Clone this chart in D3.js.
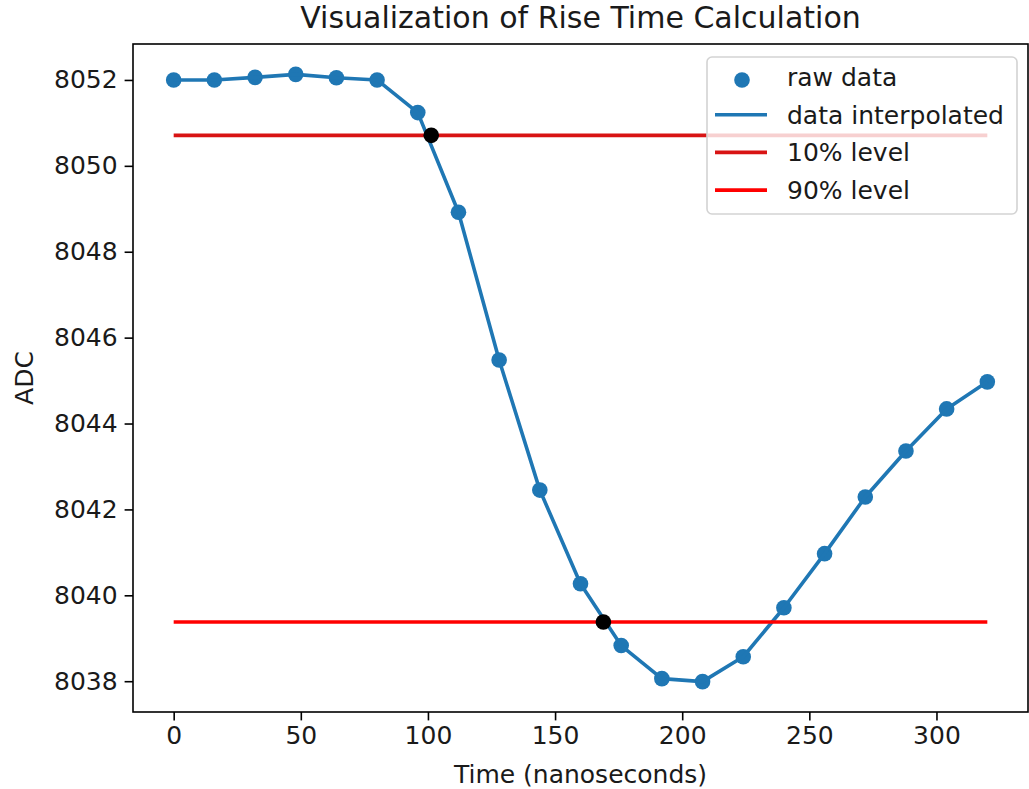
<!DOCTYPE html>
<html>
<head>
<meta charset="utf-8">
<script src="https://cdn.jsdelivr.net/npm/d3@7"></script>
<style>
  body { margin: 0; background: #fff; }
  text { font-family: "DejaVu Sans", sans-serif; fill: #1a1a1a; }
</style>
</head>
<body>
<div id="chart"></div>
<script>
// raw samples (ns, ADC counts)
var timeNs = [0, 16, 32, 48, 64, 80, 96, 112, 128, 144, 160, 176, 192, 208, 224, 240, 256, 272, 288, 304, 320];
var adc = [8052.0, 8052.0, 8052.06, 8052.13, 8052.05, 8052.0, 8051.24, 8048.92, 8045.48, 8042.45, 8040.27,
           8038.83, 8038.06, 8037.99, 8038.57, 8039.71, 8040.97, 8042.29, 8043.36, 8044.34, 8044.97];

var levelNames = ["10% level", "90% level"];
var levelValues = [8050.71, 8039.38];
var levelColors = ["#d81414", "#ff0000"];

// where the interpolated curve crosses the levels
var crossTime = [101.3, 169.0];
var crossAdc = [8050.71, 8039.38];

var xTicks = [0, 50, 100, 150, 200, 250, 300];
var yTicks = [8038, 8040, 8042, 8044, 8046, 8048, 8050, 8052];

var svgWidth = 1029;
var svgHeight = 789;

var margin = {
  top: 44,
  right: 1,
  bottom: 77,
  left: 133
};

var width = svgWidth - margin.left - margin.right;
var height = svgHeight - margin.top - margin.bottom;

var blue = "#1f77b4";
var markerR = 7.8;

var svg = d3.select("#chart")
  .append("svg")
  .attr("width", svgWidth)
  .attr("height", svgHeight);

var chartGroup = svg.append("g")
  .attr("transform", `translate(${margin.left}, ${margin.top})`);

// matplotlib-like 5% margins
var xMin = d3.min(timeNs), xMax = d3.max(timeNs);
var yMin = d3.min(adc), yMax = d3.max(adc);
var xPad = (xMax - xMin) * 0.05, yPad = (yMax - yMin) * 0.05;

var xScale = d3.scaleLinear()
  .domain([xMin - xPad, xMax + xPad])
  .range([0, width]);

var yScale = d3.scaleLinear()
  .domain([yMin - yPad, yMax + yPad])
  .range([height, 0]);

// axes
var bottomAxis = d3.axisBottom(xScale).tickValues(xTicks).tickFormat(d3.format("d"))
  .tickSize(8.4).tickPadding(6).tickSizeOuter(0);
var leftAxis = d3.axisLeft(yScale).tickValues(yTicks).tickFormat(d3.format("d"))
  .tickSize(8.4).tickPadding(7).tickSizeOuter(0);

var xAxisG = chartGroup.append("g").attr("transform", `translate(0, ${height})`).call(bottomAxis);
var yAxisG = chartGroup.append("g").call(leftAxis);

[xAxisG, yAxisG].forEach(g => {
  g.select(".domain").remove();
  g.selectAll(".tick line").attr("stroke", "#000").attr("stroke-width", 1.6);
  g.selectAll(".tick text").style("font-size", "25px").style("font-family", "DejaVu Sans").attr("fill", "#1a1a1a");
});

// raw data points
chartGroup.selectAll(".raw")
  .data(timeNs)
  .enter()
  .append("circle")
  .attr("cx", (d, i) => xScale(d))
  .attr("cy", (d, i) => yScale(adc[i]))
  .attr("r", markerR)
  .attr("fill", blue);

// interpolated line
var line = d3.line()
  .x((d, i) => xScale(timeNs[i]))
  .y(d => yScale(d));

chartGroup.append("path")
  .datum(adc)
  .attr("d", line)
  .attr("fill", "none")
  .attr("stroke", blue)
  .attr("stroke-width", 3.6)
  .attr("stroke-linejoin", "round");

// level lines
chartGroup.selectAll(".level")
  .data(levelValues)
  .enter()
  .append("line")
  .attr("x1", xScale(xMin))
  .attr("x2", xScale(xMax))
  .attr("y1", d => yScale(d))
  .attr("y2", d => yScale(d))
  .attr("stroke", (d, i) => levelColors[i])
  .attr("stroke-width", 3.6);

// crossing points
chartGroup.selectAll(".cross")
  .data(crossTime)
  .enter()
  .append("circle")
  .attr("cx", d => xScale(d))
  .attr("cy", (d, i) => yScale(crossAdc[i]))
  .attr("r", markerR)
  .attr("fill", "#000");

// frame
chartGroup.append("rect")
  .attr("width", width)
  .attr("height", height)
  .attr("fill", "none")
  .attr("stroke", "#000")
  .attr("stroke-width", 1.6);

// legend
var legend = chartGroup.append("g")
  .attr("transform", `translate(${width - 321}, 13)`);

legend.append("rect")
  .attr("width", 310)
  .attr("height", 157)
  .attr("rx", 5)
  .attr("fill", "#fff")
  .attr("fill-opacity", 0.8)
  .attr("stroke", "#d3d3d3")
  .attr("stroke-width", 1.6);

var legendRows = [
  { label: "raw data", kind: "dot", color: blue },
  { label: "data interpolated", kind: "line", color: blue },
  { label: levelNames[0], kind: "line", color: levelColors[0] },
  { label: levelNames[1], kind: "line", color: levelColors[1] }
];

legendRows.forEach((row, i) => {
  var cy = 20 + i * 37.7;
  if (row.kind === "dot") {
    legend.append("circle").attr("cx", 35).attr("cy", cy + 3).attr("r", markerR).attr("fill", row.color);
  } else {
    legend.append("line").attr("x1", 8).attr("x2", 60).attr("y1", cy).attr("y2", cy)
      .attr("stroke", row.color).attr("stroke-width", 3.6);
  }
  legend.append("text")
    .attr("x", 80)
    .attr("y", cy + 9)
    .style("font-size", "25px")
    .text(row.label);
});

// titles
svg.append("text")
  .attr("x", margin.left + width / 2)
  .attr("y", 28)
  .attr("text-anchor", "middle")
  .style("font-size", "30px")
  .text("Visualization of Rise Time Calculation");

svg.append("text")
  .attr("x", margin.left + width / 2)
  .attr("y", 783)
  .attr("text-anchor", "middle")
  .style("font-size", "25px")
  .text("Time (nanoseconds)");

svg.append("text")
  .attr("transform", `translate(33, ${margin.top + height / 2}) rotate(-90)`)
  .attr("text-anchor", "middle")
  .style("font-size", "25px")
  .text("ADC");
</script>
</body>
</html>
